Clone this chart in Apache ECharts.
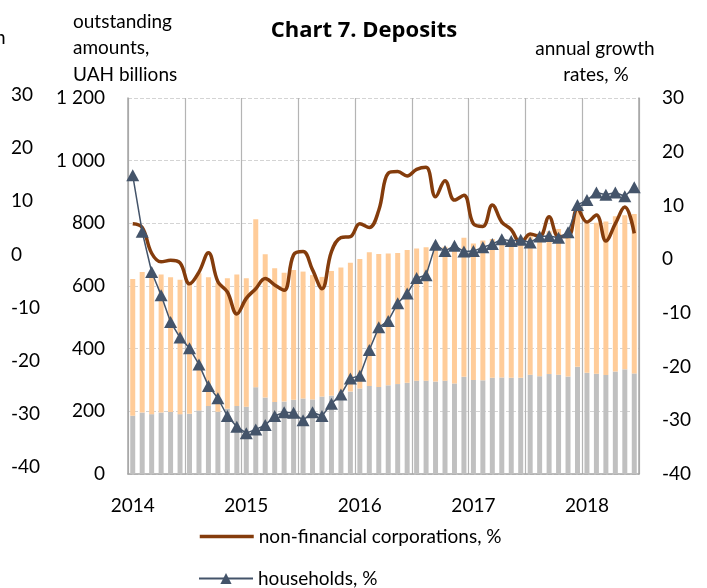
<!DOCTYPE html>
<html>
<head>
<meta charset="utf-8">
<script src="https://cdn.jsdelivr.net/npm/echarts@6/dist/echarts.min.js"></script>
<style>
html,body{margin:0;padding:0;background:#fff;}
#chart{width:707px;height:588px;}
</style>
</head>
<body>
<div id="chart"></div>
<script>
// Months Jan 2014 .. Jun 2018
const years = ['2014','2015','2016','2017','2018'];
const monthNames = ['Jan','Feb','Mar','Apr','May','Jun','Jul','Aug','Sep','Oct','Nov','Dec'];
const categories = [];
for (let y = 0; y < years.length; y++) {
  for (let m = 0; m < 12; m++) {
    if (y === 4 && m > 5) break;
    categories.push(monthNames[m] + ' ' + years[y]);
  }
}
const yearLabels = ['2014','2015','2016','2017','2018'];

// outstanding amounts, UAH billions (stacked bars)
const amountGray = [186,196,191,196,198,191,192,203,217,199,208,217,215,277,244,230,231,237,241,238,247,250,260,263,273,281,278,283,287,291,298,298,295,298,289,310,300,299,307,308,307,307,317,312,319,317,311,342,323,320,316,327,334,321];
const amountOrange = [436,449,439,441,430,429,420,438,411,411,417,420,410,536,457,427,411,414,405,397,382,398,399,411,413,427,424,421,418,424,422,426,433,427,443,444,436,446,443,444,443,448,443,456,456,465,459,498,477,482,490,496,492,509];

// annual growth rates, %
const corpGrowth = [6.6,5.9,1.1,-0.5,-0.2,-0.7,-4.6,-2.4,1.2,-4.2,-6.1,-10.2,-7.3,-5.5,-3.6,-4.8,-5.8,0.8,1.4,-2.0,-5.5,1.4,4.0,4.2,6.6,5.9,9.1,16.0,16.3,15.5,16.7,17.1,11.6,14.6,11.0,11.9,6.6,6.1,10.1,6.9,5.5,2.9,4.7,4.2,7.9,4.2,4.2,9.4,6.9,8.2,3.4,6.6,9.7,4.8];
const hhGrowth = [15.6,5.1,-2.4,-6.7,-11.7,-14.6,-16.6,-19.6,-23.6,-25.9,-29.2,-31.2,-32.4,-31.7,-30.9,-29.2,-28.5,-28.6,-30.0,-28.5,-29.2,-26.9,-25.2,-22.2,-21.7,-16.9,-12.7,-11.5,-8.2,-6.4,-3.5,-3.0,2.7,1.5,2.5,1.4,1.5,2.2,2.8,3.7,3.4,3.6,3.1,4.2,4.3,4.0,5.0,10.1,11.0,12.4,12.0,12.4,11.7,13.4];

const leftTicks = [0,200,400,600,800,1000,1200];
const rateTicks = [-40,-30,-20,-10,0,10,20,30];

const FONT = 'Lato';
const FS = 19;
const CORP = 'non-financial corporations, %';
const HH = 'households, %';

const legendBase = {
  orient: 'vertical',
  left: 193,
  itemWidth: 54,
  itemHeight: 14,
  textStyle: { fontSize: FS, fontFamily: FONT, color: '#000' }
};

const chart = echarts.init(document.getElementById('chart'));
chart.setOption({
  animation: false,
  backgroundColor: '#fff',
  textStyle: { fontFamily: FONT },
  grid: [
    { left: 128, right: 68, top: 98, bottom: 114 },
    { left: 11, width: 10, top: 95, bottom: 121 }
  ],
  graphic: [
    { type: 'text', x: 364, y: 31, style: { text: 'Chart 7. Deposits', font: 'bold 22px "Open Sans"', fill: '#000', align: 'center', verticalAlign: 'middle' } },
    { type: 'text', x: 73, y: 22, style: { text: 'outstanding', font: FS + 'px ' + FONT, fill: '#000', align: 'left', verticalAlign: 'middle' } },
    { type: 'text', x: 73, y: 48, style: { text: 'amounts,', font: FS + 'px ' + FONT, fill: '#000', align: 'left', verticalAlign: 'middle' } },
    { type: 'text', x: 73, y: 75, style: { text: 'UAH billions', font: FS + 'px ' + FONT, fill: '#000', align: 'left', verticalAlign: 'middle' } },
    { type: 'text', x: 595, y: 49, style: { text: 'annual growth', font: FS + 'px ' + FONT, fill: '#000', align: 'center', verticalAlign: 'middle' } },
    { type: 'text', x: 596, y: 75, style: { text: 'rates, %', font: FS + 'px ' + FONT, fill: '#000', align: 'center', verticalAlign: 'middle' } },
    { type: 'text', x: -5, y: 38, style: { text: 'h', font: FS + 'px ' + FONT, fill: '#000', align: 'left', verticalAlign: 'middle' } }
  ],
  legend: [
    Object.assign({}, legendBase, { top: 522, data: [{ name: CORP, itemStyle: { opacity: 0 }, lineStyle: { width: 3.5, color: '#843C0C' } }] }),
    Object.assign({}, legendBase, { top: 564, data: [HH] })
  ],
  xAxis: [
    {
      type: 'category',
      gridIndex: 0,
      data: categories,
      boundaryGap: true,
      axisLine: { show: true, lineStyle: { color: '#A6A6A6', width: 1.5 } },
      axisTick: { show: false },
      axisLabel: {
        interval: 11,
        margin: 22,
        fontSize: FS,
        fontFamily: FONT,
        color: '#000',
        formatter: (v, i) => (i % 12 === 0 ? yearLabels[i / 12] : '')
      },
      splitLine: { show: true, interval: 5, lineStyle: { color: '#B4B4B4', width: 1.2 } }
    },
    { type: 'value', gridIndex: 1, show: false }
  ],
  yAxis: [
    {
      type: 'value', gridIndex: 0, position: 'left',
      min: leftTicks[0], max: leftTicks[leftTicks.length - 1], interval: 200,
      axisLine: { show: true, lineStyle: { color: '#A6A6A6', width: 1.5 } },
      axisTick: { show: false },
      axisLabel: {
        margin: 23, fontSize: FS, fontFamily: FONT, color: '#000',
        formatter: v => (v >= 1000 ? Math.floor(v / 1000) + ' ' + String(v % 1000).padStart(3, '0') : String(v))
      },
      splitLine: { show: true, lineStyle: { color: '#D4D4D4', type: 'dashed', width: 1 } }
    },
    {
      type: 'value', gridIndex: 0, position: 'right',
      min: rateTicks[0], max: rateTicks[rateTicks.length - 1], interval: 10,
      axisLine: { show: true, lineStyle: { color: '#A6A6A6', width: 1.5 } },
      axisTick: { show: false },
      axisLabel: { margin: 23, fontSize: FS, fontFamily: FONT, color: '#000' },
      splitLine: { show: false }
    },
    {
      type: 'value', gridIndex: 1, position: 'left',
      min: rateTicks[0], max: rateTicks[rateTicks.length - 1], interval: 10,
      axisLine: { show: false },
      axisTick: { show: false },
      axisLabel: { margin: 0, align: 'left', fontSize: FS, fontFamily: FONT, color: '#000' },
      splitLine: { show: false }
    }
  ],
  series: [
    {
      name: 'deposits, gray', type: 'bar', stack: 'amt', xAxisIndex: 0, yAxisIndex: 0,
      data: amountGray, barWidth: 5, itemStyle: { color: '#C0C0C0' }, silent: true
    },
    {
      name: 'deposits, orange', type: 'bar', stack: 'amt', xAxisIndex: 0, yAxisIndex: 0,
      data: amountOrange, barWidth: 5, itemStyle: { color: '#FFCC99' }, silent: true
    },
    {
      name: CORP, type: 'line', xAxisIndex: 0, yAxisIndex: 1,
      data: corpGrowth, smooth: 0.4, symbol: 'circle', showSymbol: false,
      lineStyle: { color: '#843C0C', width: 3.5 }, itemStyle: { color: '#843C0C' }
    },
    {
      name: HH, type: 'line', xAxisIndex: 0, yAxisIndex: 1,
      data: hhGrowth, symbol: 'triangle', symbolSize: [13, 12], showSymbol: true, showAllSymbol: true,
      lineStyle: { color: '#44546A', width: 1.5 }, itemStyle: { color: '#44546A' }
    }
  ]
});
</script>
</body>
</html>
